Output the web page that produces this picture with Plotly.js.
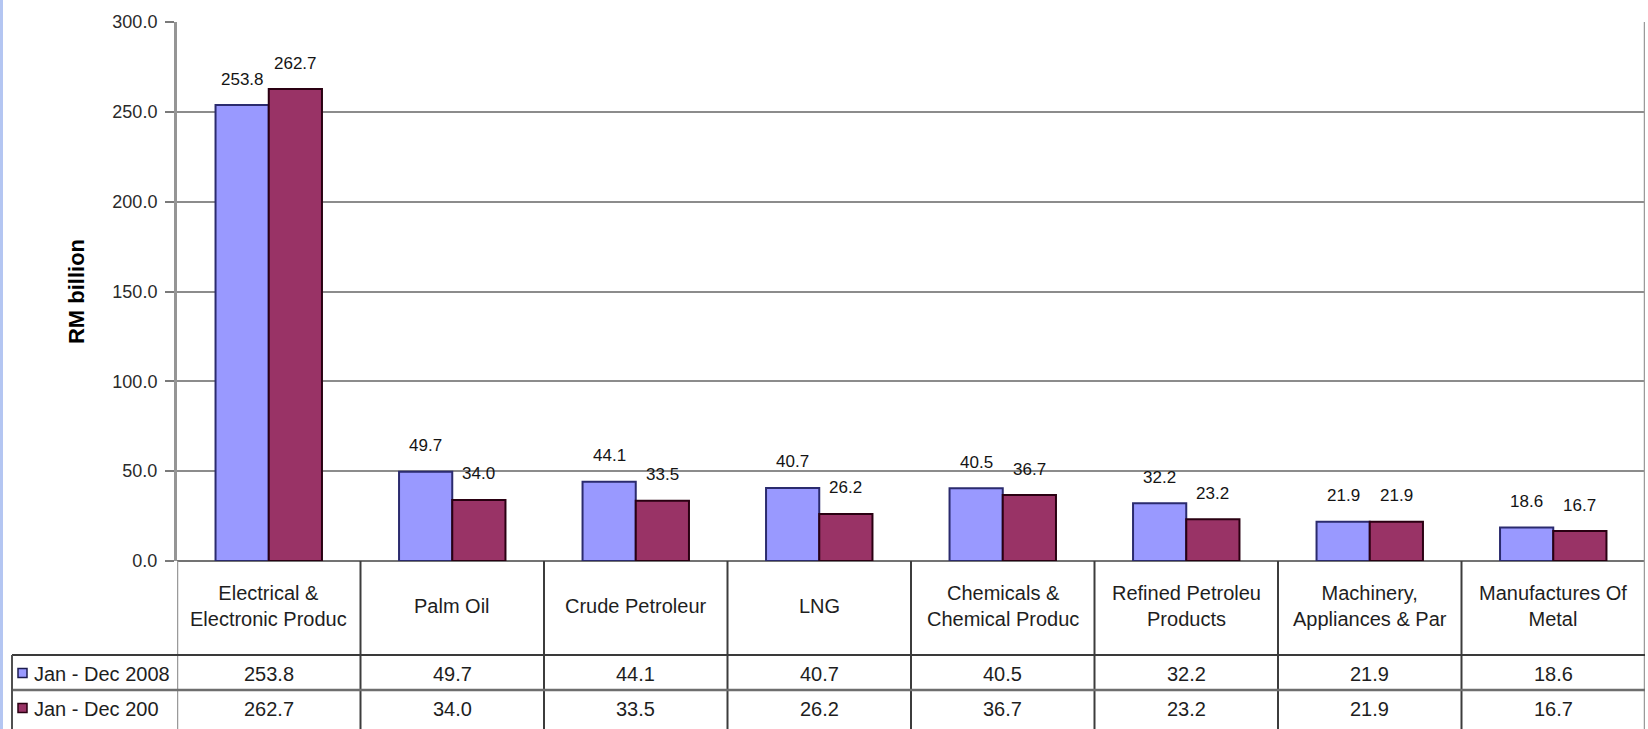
<!DOCTYPE html>
<html>
<head>
<meta charset="utf-8">
<script src="https://cdn.plot.ly/plotly-3.0.1.min.js"></script>
<style>
  html, body { margin: 0; padding: 0; background: #ffffff; }
  #chart { width: 1648px; height: 729px; }
</style>
</head>
<body>
<div id="chart"></div>
<script>
// ---------- DATA ----------
const categories = [
  "Electrical & Electronic Products",
  "Palm Oil",
  "Crude Petroleum",
  "LNG",
  "Chemicals & Chemical Products",
  "Refined Petroleum Products",
  "Machinery, Appliances & Parts",
  "Manufactures Of Metal"
];
// labels as they appear (clipped) in the data-table cells
const categoryCellLabels = [
  "Electrical &<br>Electronic Produc",
  "Palm Oil",
  "Crude Petroleur",
  "LNG",
  "Chemicals &<br>Chemical Produc",
  "Refined Petroleu<br>Products",
  "Machinery,<br>Appliances & Par",
  "Manufactures Of<br>Metal"
];
const seriesNames = ["Jan - Dec 2008", "Jan - Dec 2009"];
const legendCellLabels = ["Jan - Dec 2008", "Jan - Dec 200"];
const values2008 = [253.8, 49.7, 44.1, 40.7, 40.5, 32.2, 21.9, 18.6];
const values2009 = [262.7, 34.0, 33.5, 26.2, 36.7, 23.2, 21.9, 16.7];
const yAxisTitle = "RM billion";

// ---------- LAYOUT GEOMETRY ----------
const W = 1648, H = 729, L = 177, R = 3, T = 22, B = 168;
const plotW = W - L - R, plotH = H - T - B;
const py = p => (H - B - p) / plotH;     // pixel y -> paper y
const pxp = x => (x - L) / plotW;        // pixel x -> paper x
const BARGAP = 0.42;
const barW = (plotW / categories.length) * (1 - BARGAP) / 2;

const colors = { s1: "#9999FF", s1line: "#2b2b6e", s2: "#993366", s2line: "#2a0012" };
const FONT = "Liberation Sans, Arial, sans-serif";

const traces = [
  {
    type: "bar", name: seriesNames[0], x: categories, y: values2008,
    marker: { color: colors.s1, line: { color: colors.s1line, width: 2 } },
    hoverinfo: "none"
  },
  {
    type: "bar", name: seriesNames[1], x: categories, y: values2009,
    marker: { color: colors.s2, line: { color: colors.s2line, width: 2 } },
    hoverinfo: "none"
  }
];

const shapes = [];
const annotations = [];

// left light-blue frame strip
shapes.push({ type: "rect", xref: "paper", yref: "paper",
  x0: pxp(0), x1: pxp(3), y0: py(H), y1: py(0),
  fillcolor: "#b4c6f2", line: { width: 0 }, layer: "below" });

// table vertical lines (category column borders)
for (let i = 0; i <= categories.length; i++) {
  const isEdge = (i === 0 || i === categories.length);
  shapes.push({ type: "line", xref: "x", yref: "paper",
    x0: i - 0.5, x1: i - 0.5,
    y0: py(H), y1: (i === categories.length) ? 1 : 0,
    line: { color: isEdge ? "#9a9a9a" : "#3c3c3c", width: isEdge ? 2.5 : 2 } });
}
// table horizontal lines
shapes.push({ type: "line", xref: "paper", yref: "paper",
  x0: pxp(12), x1: 1, y0: py(655), y1: py(655),
  line: { color: "#3a3a3a", width: 2 } });
shapes.push({ type: "line", xref: "paper", yref: "paper",
  x0: pxp(12), x1: 1, y0: py(690), y1: py(690),
  line: { color: "#6e6e6e", width: 2.5 } });
// legend column left border
shapes.push({ type: "line", xref: "paper", yref: "paper",
  x0: pxp(12), x1: pxp(12), y0: py(655), y1: py(H),
  line: { color: "#505050", width: 2 } });

// legend keys in table
const keyFill = [colors.s1, colors.s2];
const keyLine = ["#1c1c50", "#2a0012"];
const rowY = [673, 708];
for (let s = 0; s < 2; s++) {
  shapes.push({ type: "rect", xref: "paper", yref: "paper",
    x0: pxp(18), x1: pxp(27), y0: py(rowY[s] + 4.5), y1: py(rowY[s] - 4.5),
    fillcolor: keyFill[s], line: { color: keyLine[s], width: 1.5 } });
  annotations.push({ xref: "paper", yref: "paper", x: pxp(32), y: py(rowY[s] + 1),
    xanchor: "left", yanchor: "middle", showarrow: false,
    text: legendCellLabels[s], font: { family: FONT, size: 20, color: "#1e1e1e" } });
}

// category labels row
categories.forEach((c, i) => {
  annotations.push({ xref: "x", yref: "paper", x: c, y: py(606),
    xanchor: "center", yanchor: "middle", showarrow: false, align: "center",
    text: categoryCellLabels[i], font: { family: FONT, size: 20, color: "#1e1e1e" } });
});
// value rows
[values2008, values2009].forEach((vals, s) => {
  vals.forEach((v, i) => {
    annotations.push({ xref: "x", yref: "paper", x: categories[i], y: py(rowY[s] + 1),
      xanchor: "center", yanchor: "middle", showarrow: false,
      text: v.toFixed(1), font: { family: FONT, size: 20, color: "#1e1e1e" } });
  });
});
// bar data labels
[values2008, values2009].forEach((vals, s) => {
  vals.forEach((v, i) => {
    annotations.push({ xref: "x", yref: "y", x: categories[i], y: v,
      xshift: (s === 0 ? -1 : 1) * barW / 2, yshift: 26,
      xanchor: "center", yanchor: "middle", showarrow: false,
      text: v.toFixed(1), font: { family: FONT, size: 17, color: "#141414" } });
  });
});

const layout = {
  width: W, height: H,
  margin: { l: L, r: R, t: T, b: B, pad: 0 },
  paper_bgcolor: "#ffffff", plot_bgcolor: "#ffffff",
  barmode: "group", bargap: BARGAP, bargroupgap: 0,
  showlegend: false,
  font: { family: FONT, color: "#222" },
  xaxis: {
    type: "category", categoryorder: "array", categoryarray: categories,
    range: [-0.5, categories.length - 0.5],
    showticklabels: false, ticks: "", showgrid: false, showline: false, zeroline: false,
    fixedrange: true
  },
  yaxis: {
    range: [0, 300], dtick: 50, tick0: 0, tickformat: ".1f",
    ticks: "outside", ticklen: 9, tickwidth: 2, tickcolor: "#7a7a7a",
    showline: true, linecolor: "#959595", linewidth: 3,
    showgrid: true, gridcolor: "#8c8c8c", gridwidth: 2,
    zeroline: true, zerolinecolor: "#737373", zerolinewidth: 2.5,
    tickfont: { family: FONT, size: 18, color: "#2a2a2a" },
    ticklabelstandoff: 4,
    title: { text: yAxisTitle, standoff: 22,
      font: { family: FONT, size: 22, color: "#000", weight: "bold" } },
    automargin: false, fixedrange: true
  },
  shapes: shapes,
  annotations: annotations
};

Plotly.newPlot("chart", traces, layout, { displayModeBar: false, staticPlot: true });
</script>
</body>
</html>
